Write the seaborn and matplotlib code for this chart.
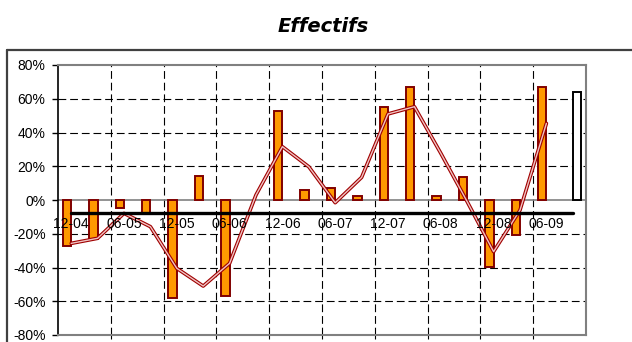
import numpy as np
import pandas as pd
import matplotlib
matplotlib.use("Agg")
import matplotlib.pyplot as plt
from matplotlib.lines import Line2D
from matplotlib.ticker import FuncFormatter
import seaborn as sns

# ---- data ----
quarters = ["12-04", "03-05", "06-05", "09-05", "12-05", "03-06", "06-06", "09-06",
            "12-06", "03-07", "06-07", "09-07", "12-07", "03-08", "06-08", "09-08",
            "12-08", "03-09", "06-09", "09-09"]
bars_main = [-27.3, -23.3, -4.9, -8.5, -57.9, 14.4, -56.9, np.nan, 52.9, 5.7,
             6.9, 2.4, 55.3, 67.2, 2.4, 13.4, -39.5, -20.7, 67.2, np.nan]
bars_last = [np.nan] * 19 + [63.8]
trend = [-25.7, -22.7, -7.9, -15.8, -40.5, -51.0, -37.5, 3.0, 31.6, 19.7,
         -1.6, 13.4, 51.0, 55.3, 27.7, -1.0, -30.6, -6.0, 45.4]
ref_level = [-7.5] * 20
yticks = [-80, -60, -40, -20, 0, 20, 40, 60, 80]

sns.set_theme(style="white")
plt.rcParams['font.family'] = ['Liberation Sans', 'DejaVu Sans']
plt.rcParams['text.color'] = 'black'
plt.rcParams['xtick.color'] = 'black'
plt.rcParams['ytick.color'] = 'black'

W, H = 632, 342
fig = plt.figure(figsize=(W / 100, H / 100), dpi=100)
ax = fig.add_axes([58 / W, (H - 335) / H, (586 - 58) / W, (335 - 65) / H])

rows = []
for q, a, b in zip(quarters, bars_main, bars_last):
    if not np.isnan(a):
        rows.append({"q": q, "v": a, "s": "main"})
    if not np.isnan(b):
        rows.append({"q": q, "v": b, "s": "last"})
df = pd.DataFrame(rows)

sns.barplot(data=df, x="q", y="v", hue="s", order=quarters, hue_order=["main", "last"],
            palette={"main": "#FF9900", "last": "#FFFFFF"}, width=0.64, dodge=True,
            saturation=1, ax=ax, legend=False, zorder=3)
for cont, ec in zip(ax.containers, ["#800000", "#000000"]):
    for p in cont.patches:
        p.set_edgecolor(ec)
        p.set_linewidth(1.4)

x = np.arange(len(trend))
sns.lineplot(x=x, y=trend, ax=ax, color="#A00000", lw=2.6, zorder=5, legend=False)
sns.lineplot(x=x, y=trend, ax=ax, color="#F0C4C4", lw=1.0, zorder=6, legend=False)
sns.lineplot(x=np.arange(len(ref_level)), y=ref_level, ax=ax, color="black",
             lw=2.4, zorder=7, legend=False)

ax.set_xlim(-0.5, len(quarters) - 0.5)
ax.set_ylim(-80, 80)
ax.set_yticks(yticks)
ax.yaxis.set_major_formatter(FuncFormatter(lambda v, p: f"{v:.0f}%"))
ax.set_xlabel("")
ax.set_ylabel("")

# grid
for yv in yticks[1:-1]:
    if yv == 0:
        ax.axhline(0, color="#808080", lw=1.2, zorder=2)
    else:
        ax.axhline(yv, color="black", lw=0.8, dashes=(7, 3.5), zorder=1)
bounds = np.arange(1.5, len(quarters) - 1, 2)
for xv in bounds:
    ax.axvline(xv, color="black", lw=0.8, dashes=(7, 3.5), zorder=1)

# x labels inside the plot, every second quarter
ax.set_xticks(bounds)
ax.set_xticklabels([])
ax.tick_params(axis="x", direction="out", length=3, width=0.8, color="black", bottom=True)
for i in range(0, len(quarters), 2):
    ax.text(i, -14.2, quarters[i], ha="center", va="center", fontsize=10,
            color="black", zorder=8)

ax.tick_params(axis="y", direction="out", length=4, width=1, color="black",
               left=True, labelsize=10, pad=5, labelcolor="black")
for s in ["top", "right", "bottom"]:
    ax.spines[s].set_color("#808080")
    ax.spines[s].set_linewidth(1.5)
ax.spines["left"].set_color("black")
ax.spines["left"].set_linewidth(1.2)

fig.text(323 / W, 1 - 27 / H, "Effectifs", ha="center", va="center", color="black",
         fontsize=14, fontweight="heavy", fontstyle="italic", family="DejaVu Sans")

# chart-area frame
fig.add_artist(Line2D([7 / W, 1.0], [1 - 50 / H, 1 - 50 / H], transform=fig.transFigure,
                      color="#404040", lw=1.6))
fig.add_artist(Line2D([7 / W, 7 / W], [0, 1 - 50 / H], transform=fig.transFigure,
                      color="#404040", lw=1.6))

fig.savefig("out.png", dpi=100)
